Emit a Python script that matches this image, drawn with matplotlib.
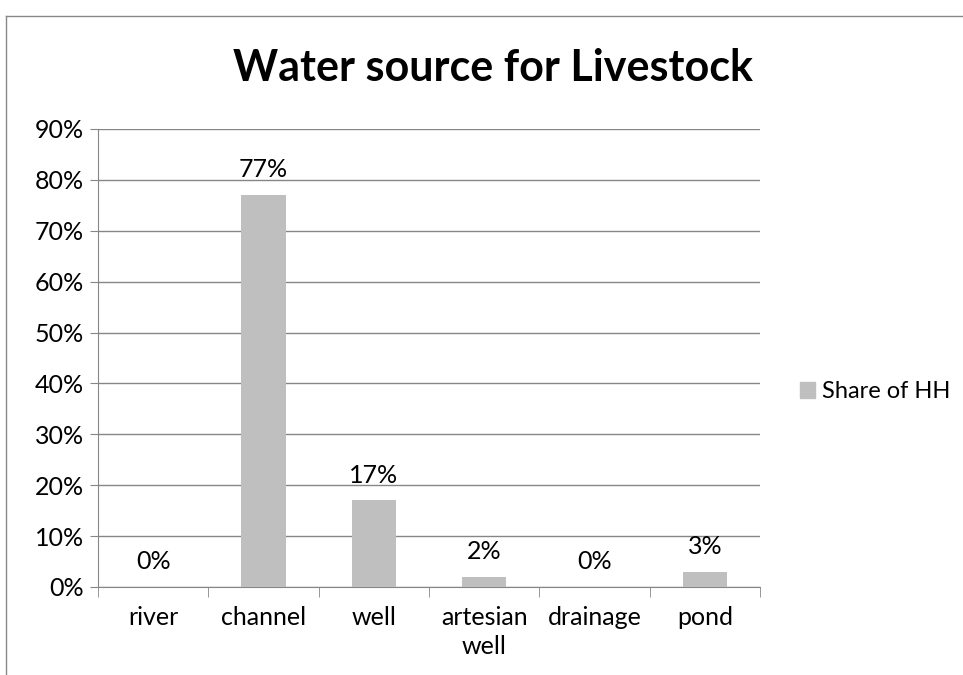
import numpy as np
import matplotlib.pyplot as plt
from matplotlib.lines import Line2D
from matplotlib.patches import Patch

# data
categories = ['river', 'channel', 'well', 'artesian\nwell', 'drainage', 'pond']
share = [0, 77, 17, 2, 0, 3]
series_name = 'Share of HH'
y_ticks = [0, 10, 20, 30, 40, 50, 60, 70, 80, 90]

plt.rcParams['font.family'] = ['Lato', 'DejaVu Sans']
fs = 18

fig = plt.figure(figsize=(9.63, 6.75), dpi=100)
ax = fig.add_axes([98/963, 1-587/675, (760-98)/963, (587-129)/675])

x = np.arange(len(categories))
bars = ax.bar(x, share, width=0.4, color='#bfbfbf', zorder=3)

for xi, v in zip(x, share):
    ax.annotate('%d%%' % v, (xi, v), xytext=(0, 10), textcoords='offset points',
                ha='center', va='bottom', fontsize=fs)

ax.set_xlim(-0.5, len(categories) - 0.5)
ax.set_ylim(0, 90)
ax.set_yticks(y_ticks)
ax.set_yticklabels(['%d%%' % t for t in y_ticks], fontsize=fs)
ax.yaxis.grid(True, color='#868686', lw=1, zorder=0)
ax.tick_params(axis='y', length=6, color='#868686', pad=4)

ax.set_xticks(x)
ax.set_xticklabels(categories, fontsize=fs, linespacing=1.3)
ax.set_xticks(np.arange(-0.5, len(categories)), minor=True)
ax.tick_params(axis='x', which='major', length=0, pad=14)
ax.tick_params(axis='x', which='minor', length=7, color='#868686')

for s in ['top', 'right']:
    ax.spines[s].set_visible(False)
for s in ['left', 'bottom']:
    ax.spines[s].set_color('#868686')

fig.text(493/963, 1-68/675, 'Water source for Livestock', ha='center', va='center',
         fontsize=31, fontweight='bold')

fig.legend(handles=[Patch(color='#bfbfbf', label=series_name)], loc='center left',
           bbox_to_anchor=(800/963, 1-392/675), frameon=False, fontsize=17,
           borderaxespad=0, borderpad=0,
           handlelength=0.64, handleheight=0.64, handletextpad=0.3)

# outer chart border
fig.add_artist(Line2D([5.5/963, 5.5/963], [0, 1-16/675], color='#888888', lw=1))
fig.add_artist(Line2D([5.5/963, 1], [1-16/675, 1-16/675], color='#888888', lw=1))

fig.savefig('out.png', dpi=100)
